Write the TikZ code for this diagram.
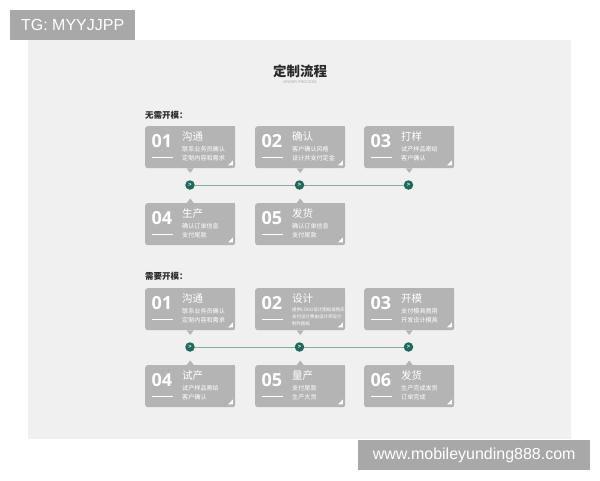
\documentclass[tikz,border=0pt]{standalone}
\usepackage{fontspec}
\setmainfont{Liberation Sans}
\newfontfamily\cjk{Noto Sans CJK SC}
\newfontfamily\numfont{Open Sans}
\definecolor{panel}{HTML}{F0F0F0}
\definecolor{cardgray}{HTML}{B4B4B4}
\definecolor{wmgray}{HTML}{A8A8A8}
\definecolor{teal}{HTML}{1D6A5C}
\definecolor{linecol}{HTML}{86ABA3}
\definecolor{dark}{HTML}{2A2A2A}
\tikzset{
  cardbox/.style={draw=none, fill=cardgray, rounded corners=2.5pt, minimum width=90pt, minimum height=42pt, inner sep=0pt},
  numtxt/.style={font=\numfont\bfseries\fontsize{18}{18}\selectfont, text=white, inner sep=0pt},
  titletxt/.style={font=\cjk\fontsize{10.5}{10.5}\selectfont, text=white, inner sep=0pt},
  desctxt/.style={font=\cjk\fontsize{6.1}{9.0}\selectfont, text=white, inner sep=0pt, align=left},
  desctiny/.style={font=\cjk\fontsize{4.5}{6.9}\selectfont, text=white, inner sep=0pt, align=left},
  dotnode/.style={circle, fill=teal, minimum size=9.5pt, inner sep=0pt, text=white, font=\bfseries\fontsize{5.5}{5.5}\selectfont},
  seclabel/.style={font=\cjk\bfseries\fontsize{8.5}{8.5}\selectfont, text=dark, anchor=west, inner sep=0pt},
  wmbox/.style={fill=wmgray, text=white, font=\fontsize{16}{16}\selectfont, inner sep=0pt},
}
% #1 name, #2 left x, #3 top y, #4 number, #5 title, #6 desc, #7 desc style, #8 pointer dir (1 down, -1 up)
\newcommand\card[8]{%
  \node[cardbox, anchor=north west] (#1) at (#2,#3) {};
  \fill[cardgray] (#1.north east) rectangle ++(-4pt,-4pt);
  \ifnum#8=1
    \fill[cardgray] ([xshift=-3.5pt]#1.south) -- ([yshift=-4.5pt]#1.south) -- ([xshift=3.5pt]#1.south) -- cycle;
  \else
    \fill[cardgray] ([xshift=-3.5pt]#1.north) -- ([yshift=4.5pt]#1.north) -- ([xshift=3.5pt]#1.north) -- cycle;
  \fi
  \fill[white] ([xshift=-7.5pt,yshift=3pt]#1.south east) -- ++(5pt,0) -- ++(0,5pt) -- cycle;
  \node[numtxt, anchor=west] (#1n) at ([xshift=6.5pt,yshift=-15pt]#1.north west) {#4};
  \draw[white, line width=0.8pt] ([xshift=7pt,yshift=-31pt]#1.north west) -- ++(21pt,0);
  \node[titletxt, anchor=west] (#1t) at ([xshift=37pt,yshift=-10.5pt]#1.north west) {#5};
  \node[#7, anchor=north west] (#1d) at ([xshift=37pt,yshift=-19.8pt]#1.north west) {#6};
}
\begin{document}
\begin{tikzpicture}[x=1pt,y=-1pt]
\useasboundingbox (0,0) rectangle (600,480);
\fill[white] (0,0) rectangle (600,480);
\fill[panel] (28,40) rectangle (571,439);
% watermarks
\node[wmbox, minimum width=125pt, minimum height=30pt, anchor=north west] (wm1) at (10,10) {TG: MYYJJPP};
\node[wmbox, minimum width=232pt, minimum height=30pt, anchor=north west] (wm2) at (358,440) {www.mobileyunding888.com};
% title
\node[font=\cjk\bfseries\fontsize{13.5}{13.5}\selectfont, text=dark, inner sep=0pt] (title) at (300,71) {定制流程};
\node[font=\fontsize{3.8}{3.8}\selectfont, text=gray!70, inner sep=0pt] (subtitle) at (300,82.5) {ORDER PROCESS};
% section 1
\node[seclabel] (sec1) at (145,115) {无需开模：};
\card{a1}{145}{126}{01}{沟通}{联系业务员确认\\定制内容和需求}{desctxt}{1}
\card{a2}{255}{126}{02}{确认}{客户确认风格\\设计并支付定金}{desctxt}{1}
\card{a3}{364}{126}{03}{打样}{试产样品寄给\\客户确认}{desctxt}{1}
\card{a4}{145}{203}{04}{生产}{确认订单信息\\支付尾款}{desctxt}{-1}
\card{a5}{255}{203}{05}{发货}{确认订单信息\\支付尾款}{desctxt}{-1}
\node[dotnode] (d1) at (190,185) {>};
\node[dotnode] (d2) at (299.5,185) {>};
\node[dotnode] (d3) at (408.5,185) {>};
\draw[linecol, line width=1pt] (d1) -- (d2) -- (d3);
% section 2
\node[seclabel] (sec2) at (145,276) {需要开模：};
\card{b1}{145}{288}{01}{沟通}{联系业务员确认\\定制内容和需求}{desctxt}{1}
\card{b2}{255}{288}{02}{设计}{提供LOGO设计图纸或购买\\支付设计费由设计师设计\\制作图纸}{desctiny}{1}
\card{b3}{364}{288}{03}{开模}{支付模具费用\\开发设计模具}{desctxt}{1}
\card{b4}{145}{365}{04}{试产}{试产样品寄给\\客户确认}{desctxt}{-1}
\card{b5}{255}{365}{05}{量产}{支付尾款\\生产大货}{desctxt}{-1}
\card{b6}{364}{365}{06}{发货}{生产完成发货\\订单完成}{desctxt}{-1}
\node[dotnode] (e1) at (190,347) {>};
\node[dotnode] (e2) at (299.5,347) {>};
\node[dotnode] (e3) at (408.5,347) {>};
\draw[linecol, line width=1pt] (e1) -- (e2) -- (e3);
\end{tikzpicture}
\end{document}
